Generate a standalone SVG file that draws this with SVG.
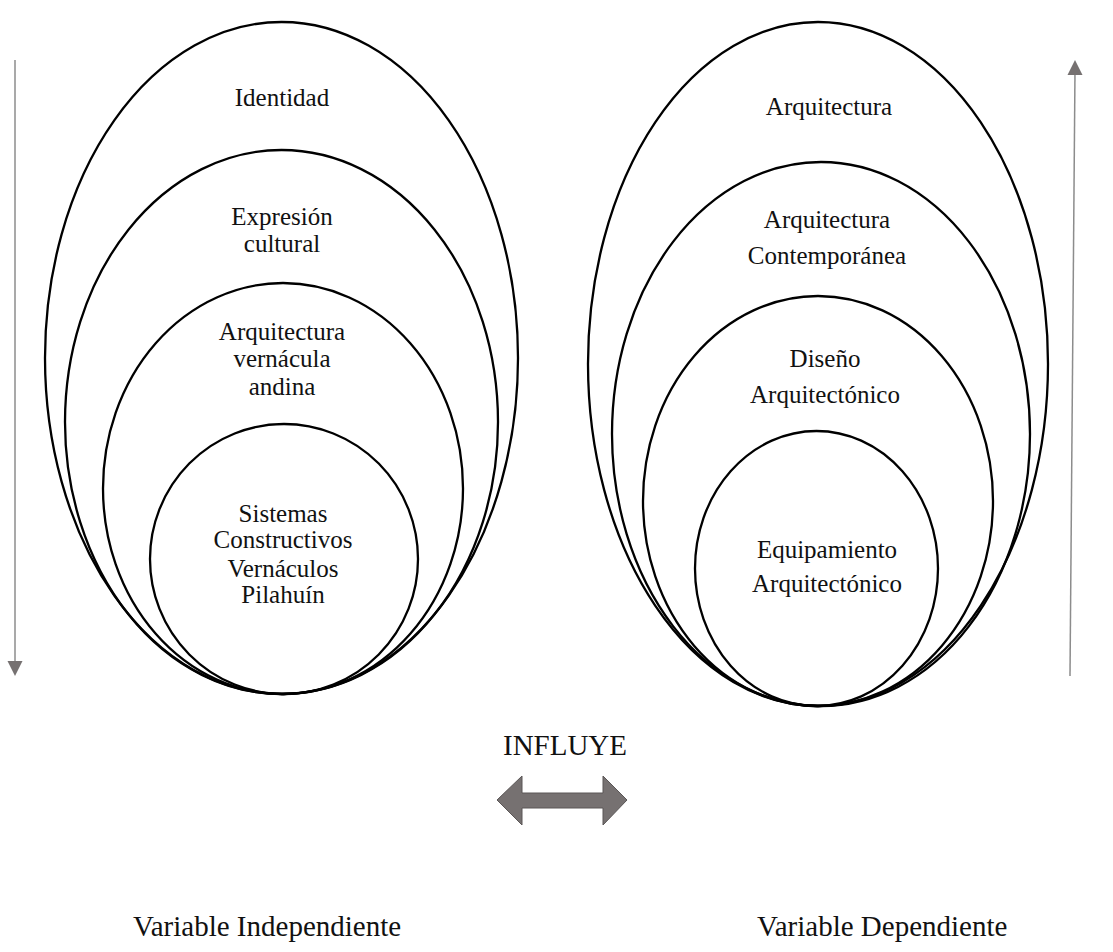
<svg xmlns="http://www.w3.org/2000/svg" width="1113" height="952" viewBox="0 0 1113 952">
<style>
.ring{fill:none;stroke:#000;stroke-width:2.3}
.t{font-family:"Liberation Serif","Times New Roman",serif;font-size:25px;fill:#111;text-anchor:middle}
.b{font-family:"Liberation Serif","Times New Roman",serif;font-size:29px;fill:#111}
.vline{stroke:#8c8c8c;stroke-width:1.5;fill:none}
</style>
<defs>
<marker id="ah" viewBox="0 0 10 10" refX="9" refY="5" markerWidth="10" markerHeight="10" markerUnits="userSpaceOnUse" orient="auto">
<path d="M0,0 L10,5 L0,10 Z" fill="#767171"/>
</marker>
</defs>
<rect width="1113" height="952" fill="#fff"/>
<g id="connectors">
<line class="vline" x1="15" y1="60" x2="15" y2="668"/>
<path d="M7.5,661 L22.5,661 L15,676 Z" fill="#767171"/>
<line class="vline" x1="1070" y1="676" x2="1075" y2="70"/>
<path d="M1067.5,75 L1082.5,75 L1075,60 Z" fill="#767171"/>
<path id="influye-arrow" d="M497,800 L522,776 L522,793 L603,793 L603,776 L627,800 L603,825 L603,808 L522,808 L522,825 Z" fill="#767171" stroke="#5a5656" stroke-width="1"/>
</g>
<g id="left-identidad"><ellipse class="ring" cx="281.5" cy="358" rx="236.5" ry="336"/><text class="t" x="282" y="106">Identidad</text></g>
<g id="left-expresion"><ellipse class="ring" cx="281.5" cy="422" rx="216.5" ry="272"/><text class="t" x="282" y="225">Expresión</text><text class="t" x="282" y="252">cultural</text></g>
<g id="left-vernacula"><ellipse class="ring" cx="283" cy="488.5" rx="180" ry="205.5"/><text class="t" x="282" y="340">Arquitectura</text><text class="t" x="282" y="367">vernácula</text><text class="t" x="282" y="395">andina</text></g>
<g id="left-sistemas"><ellipse class="ring" cx="284" cy="559" rx="134" ry="135"/><text class="t" x="283" y="522">Sistemas</text><text class="t" x="283" y="548">Constructivos</text><text class="t" x="283" y="577">Vernáculos</text><text class="t" x="283" y="603">Pilahuín</text></g>
<g id="right-arquitectura"><ellipse class="ring" cx="818" cy="364" rx="230" ry="342"/><text class="t" x="829" y="115">Arquitectura</text></g>
<g id="right-contemporanea"><ellipse class="ring" cx="821" cy="434" rx="209" ry="272"/><text class="t" x="827" y="228">Arquitectura</text><text class="t" x="827" y="264">Contemporánea</text></g>
<g id="right-diseno"><ellipse class="ring" cx="818" cy="501" rx="175" ry="205"/><text class="t" x="825" y="367">Diseño</text><text class="t" x="825" y="403">Arquitectónico</text></g>
<g id="right-equipamiento"><ellipse class="ring" cx="816.5" cy="568.5" rx="121.5" ry="137.5"/><text class="t" x="827" y="558">Equipamiento</text><text class="t" x="827" y="592">Arquitectónico</text></g>
<g id="labels">
<text class="b" x="565" y="755" text-anchor="middle">INFLUYE</text>
<text class="b" x="133" y="936">Variable Independiente</text>
<text class="b" x="757" y="936">Variable Dependiente</text>
</g>
</svg>
